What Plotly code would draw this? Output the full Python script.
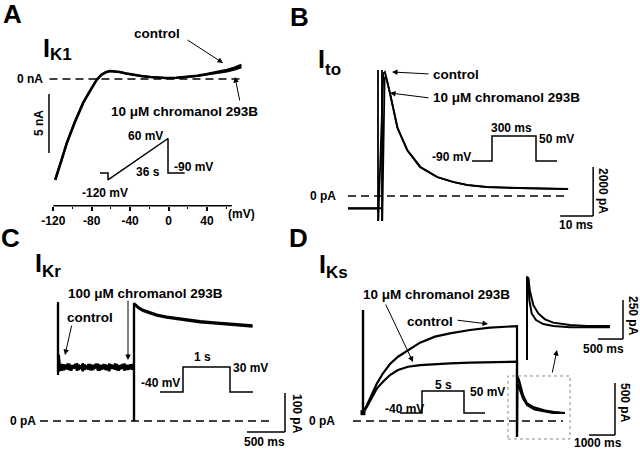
import plotly.graph_objects as go

# ===================== DATA =====================
# Panel A : I_K1, ramp I-V relation (mV, nA)
ik1_mv = [-118, -112, -106, -98, -89, -81, -75, -70, -65, -61, -56, -51, -44, -37,
          -28, -19, -10, -2, 8, 19, 30, 40, 51, 61, 69, 76]
ik1_control_na = [-8.56, -7.1, -5.45, -3.75, -2.05, -0.9, -0.1, 0.35, 0.58, 0.68, 0.66, 0.6,
                  0.47, 0.35, 0.25, 0.17, 0.11, 0.08, 0.1, 0.17, 0.28, 0.42, 0.58, 0.76, 0.95, 1.19]
ik1_293b_na = [-8.5, -7.05, -5.4, -3.7, -2.0, -0.88, -0.08, 0.36, 0.59, 0.67, 0.65, 0.59,
               0.46, 0.34, 0.24, 0.16, 0.1, 0.07, 0.09, 0.15, 0.25, 0.37, 0.5, 0.64, 0.8, 1.0]
ik1_ticks = [-120, -80, -40, 0, 40]
ik1_minor_ticks = [-100, -60, -20, 20, 60]

# Panel B : I_to (ms, pA)
ito_control_ms = [-9.1, 0, 0, 0, 0.1, 1.6, 2.1, 3.6, 5.8, 8.8, 12.7, 17.9, 22.7, 27, 33, 43, 50, 57.6]
ito_control_pa = [-510, -510, 5140, -980, -980, 5000, 5060, 4200, 2815, 1877, 1183, 775, 571, 450,
                  367, 326, 300, 286]
ito_293b_ms = [-9.1, 1.2, 1.2, 1.2, 1.3, 2.0, 2.4, 3.8, 6.0, 9.0, 13, 18, 23, 27, 33, 43, 50, 57.6]
ito_293b_pa = [-500, -500, 5140, -980, -980, 4800, 4900, 4100, 2750, 1850, 1170, 770, 565, 445,
               365, 322, 300, 284]

# Panel C : I_Kr (ms, pA)
ikr_ms = [0, 0, 12, 25, 50, 75, 100, 125, 150, 175, 200, 225, 250, 275, 300, 325, 350, 375, 400,
          425, 450, 475, 500, 525, 550, 575, 600, 625, 650, 675, 700, 725, 750, 775, 800, 825,
          850, 875, 900, 925, 950, 975, 1000, 1000, 1000, 1015, 1060, 1120, 1200, 1300, 1430,
          1560, 1700, 1870, 2050, 2300, 2560]
ikr_control_pa = [305, 118, 170, 128, 146, 130, 144, 132, 147, 129, 143, 134, 148, 131, 142, 128,
                  145, 133, 146, 130, 141, 135, 147, 129, 144, 132, 146, 131, 143, 128, 145, 134,
                  147, 130, 142, 133, 146, 129, 144, 131, 145, 132, 140, 0, 302, 300, 292, 285,
                  279, 273, 268, 264, 260, 256, 253, 250, 245]
ikr_293b_pa = [300, 125, 160, 132, 131, 145, 133, 147, 130, 143, 135, 146, 129, 144, 134, 148,
               131, 142, 132, 146, 130, 144, 135, 147, 129, 143, 133, 145, 130, 147, 134, 141,
               132, 146, 129, 144, 134, 147, 131, 143, 133, 146, 137, 0, 299, 297, 289, 282,
               276, 270, 265, 261, 257, 253, 250, 247, 242]

# Panel D : I_Ks (ms, pA)
iks_control_ms = [0, 0, 154, 346, 538, 769, 1038, 1346, 1731, 2192, 2769, 3346, 4115, 4885, 5923,
                  5923, 5935, 6000, 6150, 6300, 6538, 7000, 7308, 7769]
iks_control_pa = [1068, 80, 154, 266, 362, 459, 548, 618, 683, 753, 811, 843, 875, 897, 913,
                  -154, 430, 394, 250, 170, 135, 100, 87, 77]
iks_293b_ms = [0, 0, 154, 346, 538, 769, 1038, 1346, 1731, 2192, 2769, 3346, 4115, 4885, 5923,
               5923, 5935, 6000, 6150, 6308, 6600, 7308, 7769]
iks_293b_pa = [1068, 80, 138, 234, 314, 378, 442, 490, 522, 538, 548, 555, 561, 567, 570,
               -154, 360, 327, 220, 154, 110, 77, 77]
# inset : magnified tail currents (ms after step end, pA)
tail_control_ms = [0, 0, 26, 60, 126, 226, 360, 526, 860, 1194, 1660]
tail_control_pa = [-147, 386, 376, 291, 205, 151, 113, 92, 77, 71, 71]
tail_293b_ms = [0, 0, 26, 46, 94, 180, 326, 526, 860, 1660]
tail_293b_pa = [-147, 386, 376, 237, 151, 109, 83, 71, 62, 62]

# Voltage protocols (time, mV)
protoA_s = [-4.8, 0, 0, 36, 36, 46]
protoA_mv = [-90, -90, -120, 60, -90, -90]
protoB_ms = [-136, 0, 0, 300, 300, 443]
protoB_mv = [-90, -90, 50, 50, -90, -90]
protoC_ms = [-489, 0, 0, 1000, 1000, 1489]
protoC_mv = [-40, -40, 30, 30, -40, -40]
protoD_ms = [-2619, 0, 0, 5000, 5000, 7500]
protoD_mv = [-40, -40, 50, 50, -40, -40]

# ===================== LAYOUT HELPERS =====================
W, H = 640, 450
FONT = "Liberation Sans, Arial, sans-serif"
layout = dict(width=W, height=H, margin=dict(l=0, r=0, t=0, b=0),
              paper_bgcolor="white", plot_bgcolor="rgba(0,0,0,0)",
              font=dict(family=FONT, color="black", size=12), showlegend=False)


def add_axes(n, px0, px1, py0, py1, x0, sx, y0, sy):
    """pixel_x = x0 + sx*value ; pixel_y = y0 - sy*value"""
    s = "" if n == 1 else str(n)
    layout["xaxis" + s] = dict(domain=[px0 / W, px1 / W], range=[(px0 - x0) / sx, (px1 - x0) / sx],
                               visible=False, anchor="y" + s, fixedrange=True)
    layout["yaxis" + s] = dict(domain=[1 - py1 / H, 1 - py0 / H], range=[(y0 - py1) / sy, (y0 - py0) / sy],
                               visible=False, anchor="x" + s, fixedrange=True)


add_axes(1, 40, 250, 60, 190, 168.5, 0.96, 79, 11.8)          # A
add_axes(2, 340, 600, 60, 225, 378, 3.3, 196, 1 / 40.8)        # B
add_axes(3, 30, 300, 290, 440, 58, 0.076, 421, 0.39)           # C
add_axes(4, 330, 632, 300, 445, 363, 0.026, 421, 0.104)        # D
add_axes(5, 515, 632, 268, 365, 527, 0.05, 337, 0.156)         # D inset
add_axes(6, 95, 190, 130, 185, 108, 60 / 36, 152.3, 0.23)      # protocol A
add_axes(7, 465, 565, 130, 168, 492, 0.1467, 144.9, 0.1786)    # protocol B
add_axes(8, 155, 260, 360, 400, 183, 0.047, 377.7, 0.357)      # protocol C
add_axes(9, 395, 490, 385, 420, 422, 0.0084, 403.2, 0.2444)    # protocol D

AXIS_Y_PX = 205.7
layout["xaxis"].update(visible=True, showgrid=False, zeroline=False, showline=False,
                       anchor="free", position=1 - AXIS_Y_PX / H,
                       ticks="outside", ticklen=4, tickwidth=1.5, tickcolor="black",
                       tickmode="array", tickvals=ik1_ticks,
                       ticktext=["<b>%d</b>" % v for v in ik1_ticks],
                       tickfont=dict(size=12, family=FONT, color="black"),
                       minor=dict(tickmode="array", tickvals=ik1_minor_ticks, ticks="outside",
                                  ticklen=2, tickwidth=1.2, tickcolor="black"))

fig = go.Figure()


def line(x, y, n, w=2.0):
    s = "" if n == 1 else str(n)
    fig.add_trace(go.Scatter(x=x, y=y, xaxis="x" + s, yaxis="y" + s, mode="lines",
                             line=dict(color="black", width=w), hoverinfo="skip"))


line(ik1_mv, ik1_control_na, 1, 2.6)
line(ik1_mv, ik1_293b_na, 1, 2.0)
line(ito_control_ms, ito_control_pa, 2, 1.8)
line(ito_293b_ms, ito_293b_pa, 2, 1.8)
line(ikr_ms, ikr_control_pa, 3, 2.2)
line(ikr_ms, ikr_293b_pa, 3, 2.2)
line(iks_control_ms, iks_control_pa, 4, 2.2)
line(iks_293b_ms, iks_293b_pa, 4, 2.2)
line(tail_control_ms, tail_control_pa, 5, 2.0)
line(tail_293b_ms, tail_293b_pa, 5, 2.0)
line(protoA_s, protoA_mv, 6, 1.5)
line(protoB_ms, protoB_mv, 7, 1.5)
line(protoC_ms, protoC_mv, 8, 1.5)
line(protoD_ms, protoD_mv, 9, 1.5)
fig.add_trace(go.Scatter(x=[iks_control_ms[1]], y=[iks_control_pa[1]], xaxis="x4", yaxis="y4",
                         mode="markers", marker=dict(symbol="square", size=5, color="black"),
                         hoverinfo="skip"))

shapes = []
DASH = "8px,5px"


def seg(n, x0, y0, x1, y1, w=1.5, dash=None, color="black"):
    s = "" if n == 1 else str(n)
    shapes.append(dict(type="line", xref="x" + s, yref="y" + s, x0=x0, y0=y0, x1=x1, y1=y1,
                       line=dict(color=color, width=w, dash=dash) if dash else dict(color=color, width=w)))


# zero-current dashed lines
seg(1, -124, 0, 79, 0, 1.5, DASH)
seg(2, -9.1, 0, 57.6, 0, 1.5, DASH)
seg(3, -237, 0, 2816, 0, 1.5, DASH)
seg(4, -385, 0, 7692, 0, 1.5, DASH)
# scale bars
seg(1, -124.5, -1.27, -124.5, -6.27)                 # 5 nA
seg(2, 65.2, 1183, 65.2, -817)                       # 2000 pA
seg(2, 55.2, -817, 65.2, -817)                       # 10 ms
seg(3, 2987, 72, 2987, -28)                          # 100 pA
seg(3, 2487, -28, 2987, -28)                         # 500 ms
seg(4, 9692, 365, 9692, -135)                        # 500 pA
seg(4, 8692, -135, 9692, -135)                       # 1000 ms
seg(5, 1920, 237, 1920, -13)                         # 250 pA
seg(5, 1420, -13, 1920, -13)                         # 500 ms
# A axis line
shapes.append(dict(type="line", xref="x", yref="paper", x0=-120, x1=66,
                   y0=1 - AXIS_Y_PX / H, y1=1 - AXIS_Y_PX / H, line=dict(color="black", width=1.5)))
# dotted zoom box in D
shapes.append(dict(type="rect", xref="x4", yref="y4", x0=5577, x1=7962, y0=-173, y1=433,
                   line=dict(color="#8a8a8a", width=1, dash="dot")))
layout["shapes"] = shapes

ann = []


def txt(s, cx, cy, size=12, angle=0, xanchor="center", yanchor="middle"):
    ann.append(dict(text="<b>%s</b>" % s, x=cx / W, y=1 - cy / H, xref="paper", yref="paper",
                    showarrow=False, xanchor=xanchor, yanchor=yanchor, textangle=angle,
                    font=dict(size=size, family=FONT, color="black"), borderpad=0))


def current_label(sub, ix, icy, scy):
    """Big 'I' with a subscript; ix = left edge of I, icy/scy = vertical centres."""
    txt("I", ix - 1.5, icy, 25, xanchor="left")
    txt(sub, ix + 6, scy, 17, xanchor="left")


def arrow(hx, hy, tx, ty):
    ann.append(dict(text="", x=hx / W, y=1 - hy / H, xref="paper", yref="paper",
                    ax=tx - hx, ay=ty - hy, axref="pixel", ayref="pixel", showarrow=True,
                    arrowhead=2, arrowsize=1.1, arrowwidth=1, arrowcolor="black", standoff=0))


# Panel A
txt("A", 12, 14, 26)
current_label("K1", 43, 48, 54)
txt("control", 157, 33, 13.5)
txt("10 \u03bcM chromanol 293B", 184, 111, 13.5)
txt("0 nA", 44, 79, 12, xanchor="right")
txt("5 nA", 39, 123, 12, angle=-90)
txt("60 mV", 145, 136)
txt("36 s", 148, 172)
txt("-90 mV", 193, 167)
txt("-120 mV", 105, 193)
txt("(mV)", 241, 214)
arrow(223, 63, 186, 39)
arrow(235, 77, 240, 102)
# Panel B
txt("B", 299, 17, 26)
current_label("to", 318, 59, 69)
txt("control", 432, 75, 13.5, xanchor="left")
txt("10 \u03bcM chromanol 293B", 432, 98, 13.5, xanchor="left")
txt("-90 mV", 451, 157)
txt("300 ms", 511, 128)
txt("50 mV", 556, 139)
txt("0 pA", 337, 196, xanchor="right")
txt("2000 pA", 603, 191, angle=90)
txt("10 ms", 576, 225)
arrow(392, 72, 430, 74)
arrow(390, 93, 430, 98)
# Panel C
txt("C", 10, 238, 26)
current_label("Kr", 35, 262.5, 271.5)
txt("100 \u03bcM chromanol 293B", 145, 293, 13.5)
txt("control", 90, 317, 13.5)
txt("-40 mV", 160, 383)
txt("1 s", 202, 357)
txt("30 mV", 250, 368)
txt("0 pA", 37, 421, xanchor="right")
txt("100 pA", 297, 414, angle=90)
txt("500 ms", 264, 442)
arrow(65, 355, 72, 324)
arrow(128, 360, 128, 299)
# Panel D
txt("D", 298, 238, 26)
current_label("Ks", 319, 264, 272.5)
txt("10 \u03bcM chromanol 293B", 436, 294, 13.5)
txt("control", 430, 321, 13.5)
txt("-40 mV", 404, 409)
txt("5 s", 443, 385)
txt("50 mV", 487, 392)
txt("0 pA", 336, 421, xanchor="right")
txt("250 pA", 633, 316, angle=90)
txt("500 ms", 603, 349)
txt("500 pA", 625, 403, angle=90)
txt("1000 ms", 598, 443)
arrow(488, 324, 456, 320)
arrow(413, 362, 385, 303)
arrow(557, 350, 552, 374)
layout["annotations"] = ann

fig.update_layout(**layout)
fig.write_html("out.html", config={"displayModeBar": False},
               post_script="document.body.style.margin='0';document.body.style.overflow='hidden';")
